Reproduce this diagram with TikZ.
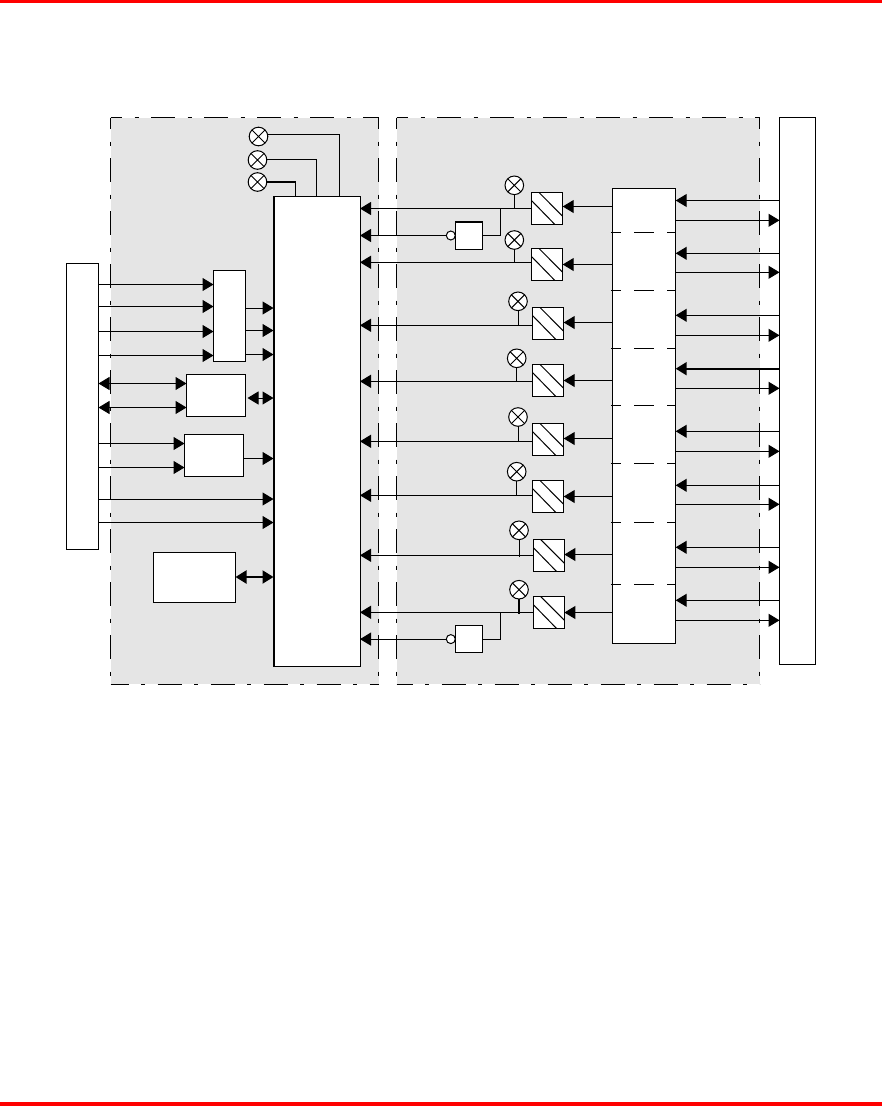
\documentclass[tikz,border=0pt]{standalone}
\usetikzlibrary{arrows.meta}
\definecolor{panelgray}{HTML}{E5E5E5}
\definecolor{rulered}{HTML}{FF0000}
\tikzset{
  x=1pt,y=-1pt,
  every path/.style={line width=1pt},
  panelfill/.style={fill=panelgray,draw=none},
  panelside/.style={draw=black,line width=1pt,dash pattern=on 24pt off 12.5pt on 4pt off 12.5pt,dash phase=#1},
  panelside/.default=12.5pt,
  box/.style={draw=black,fill=white,line width=1pt,rectangle,inner sep=0pt,outer sep=0pt,anchor=north west},
  lamp/.style={draw=black,fill=white,line width=1pt,circle,inner sep=0pt,outer sep=0pt,minimum size=18.6pt,
    path picture={\draw[line width=1pt] (path picture bounding box.north west) -- (path picture bounding box.south east)
      (path picture bounding box.north east) -- (path picture bounding box.south west);}},
  hatchbox/.style={box,minimum width=31.4pt,minimum height=32pt,
    path picture={\draw[line width=1pt]
      ([xshift=7.5pt]path picture bounding box.north west) -- ([yshift=8pt]path picture bounding box.south east)
      ([yshift=-8pt]path picture bounding box.north west) -- ([xshift=-8pt]path picture bounding box.south east);}},
  inv/.style={draw=black,fill=white,line width=1pt,circle,inner sep=0pt,outer sep=0pt,minimum size=9pt},
  arr/.style={-{Triangle[length=11pt,width=13pt]},line width=1pt},
  biarr/.style={{Triangle[length=11pt,width=13pt]}-{Triangle[length=11pt,width=13pt]},line width=1pt},
  wire/.style={line width=1pt},
  thickwire/.style={line width=2pt},
  sep/.style={line width=1pt,dash pattern=on 10pt off 13pt on 20pt off 13pt on 10pt off 50pt}
}
\begin{document}
\begin{tikzpicture}
\useasboundingbox (0,0) rectangle (882,1106);
% red rules
\fill[rulered] (0,0) rectangle (882,3);
\fill[rulered] (0,1102) rectangle (882,1106);
% panels
\path[panelfill] (110.5,117.5) rectangle (378.5,684);
\path[panelfill] (396.5,117.5) rectangle (759.5,684);
\draw[panelside] (110.5,117.5) -- (378.5,117.5);
\draw[panelside] (110.5,117.5) -- (110.5,684);
\draw[panelside] (378.5,117.5) -- (378.5,684);
\draw[panelside=6pt] (110.5,684) -- (378.5,684);
\draw[panelside] (396.5,117.5) -- (759.5,117.5);
\draw[panelside] (396.5,117.5) -- (396.5,684);
\draw[panelside] (759.5,117.5) -- (759.5,684);
\draw[panelside=8pt] (396.5,684) -- (759.5,684);
% blocks
\node[box,minimum width=32pt,minimum height=286pt] (src) at (66.5,263) {};
\node[box,minimum width=86.5pt,minimum height=469.5pt] (main) at (273.5,196.5) {};
\draw[line width=2pt] (main.north west) -- (main.south west);
\node[box,minimum width=32pt,minimum height=90.5pt] (mux) at (213.5,270.5) {};
\node[box,minimum width=59pt,minimum height=41.5pt] (bib) at (186.5,374.5) {};
\node[box,minimum width=59pt,minimum height=42pt] (inb) at (184.5,434.5) {};
\node[box,minimum width=82pt,minimum height=50pt] (mem) at (153.5,552.5) {};
\node[box,minimum width=63.4pt,minimum height=455pt] (tall) at (612.3,188.5) {};
\node[box,minimum width=36pt,minimum height=546.5pt] (bar) at (779.5,117.5) {};
% top lamps
\node[lamp] (la) at (258.5,136.5) {};
\node[lamp] (lb) at (257.5,160) {};
\node[lamp] (lc) at (257.5,182) {};
\draw[wire] (la.east |- 0,134.5) -| (main.north -| 339.5,0);
\draw[wire] (lb.east |- 0,159.5) -| (main.north -| 316.5,0);
\draw[thickwire] (lc.east |- 0,181.5) -- (295.5,181.5) coordinate (lcc);
\draw[wire] (lcc) -- (lcc |- main.north);
% left inputs
\foreach \y in {284.5,306.5,331.5,355.5} \draw[arr] (src.east |- 0,\y) -- (mux.west |- 0,\y);
\foreach \y in {308,330.5,354.5} \draw[arr] (mux.east |- 0,\y) -- (main.west |- 0,\y);
\foreach \y in {383.5,407.5} \draw[biarr] (src.east |- 0,\y) -- (bib.west |- 0,\y);
\draw[biarr,shorten <=2pt] (bib.east |- 0,398) -- (main.west |- 0,398);
\foreach \y in {443.5,467.5} \draw[arr] (src.east |- 0,\y) -- (inb.west |- 0,\y);
\draw[arr] (inb.east |- 0,458.5) -- (main.west |- 0,458.5);
\foreach \y in {499,522.5} \draw[arr] (src.east |- 0,\y) -- (main.west |- 0,\y);
\draw[biarr,line width=2pt] (mem.east |- 0,577) -- (main.west |- 0,577);
% hatch boxes
\node[hatchbox] (h1) at (531.3,192.3) {};
\node[hatchbox] (h2) at (531.3,248.3) {};
\node[hatchbox] (h3) at (532.3,307.3) {};
\node[hatchbox] (h4) at (532.3,364.3) {};
\node[hatchbox] (h5) at (532.3,423.3) {};
\node[hatchbox] (h6) at (532.3,480.3) {};
\node[hatchbox] (h7) at (533,539.3) {};
\node[hatchbox] (h8) at (533,596.3) {};
% right lamps
\node[lamp] (r1) at (514.3,185.3) {};
\node[lamp] (r2) at (514.3,240) {};
\node[lamp] (r3) at (518,301.3) {};
\node[lamp] (r4) at (516.7,358.3) {};
\node[lamp] (r5) at (518,417) {};
\node[lamp] (r6) at (516.7,471.7) {};
\node[lamp] (r7) at (519,530.3) {};
\node[lamp] (r8) at (519,589.7) {};
% hatch -> main
\foreach \n/\y in {h1/208.5,h2/262.3,h3/325.3,h4/381.3,h5/441.3,h6/495.3,h7/555.3,h8/612.3}
  \draw[arr] (\n.west |- 0,\y) -- (main.east |- 0,\y);
% stems
\foreach \n/\y in {r1/208.5,r2/262.3,r3/325.3,r4/381.3,r5/441.3,r6/495.3,r7/557}
  \draw[wire] (\n.south) -- (\n.south |- 0,\y);
\draw[thickwire] (r8.south) -- (r8.south |- 0,614);
% tall -> hatch
\foreach \n/\y in {h1/206.5,h2/264.5,h3/322.5,h4/380.5,h5/438.5,h6/496.5,h7/554.5,h8/612.5}
  \draw[arr] (tall.west |- 0,\y) -- (\n.east |- 0,\y);
% inverters
\node[box,minimum width=27.4pt,minimum height=27.6pt] (g1) at (455.3,221.7) {};
\draw[line width=2pt] (g1.north west) -- (g1.north east);
\node[inv,anchor=east] (i1) at (g1.west) {};
\draw[arr] (i1.west) -- (i1.west -| main.east);
\draw[wire] (g1.east) -| (500.3,208.5) coordinate (j1);
\node[box,minimum width=27.4pt,minimum height=27.6pt] (g2) at (455.3,625.3) {};
\node[inv,anchor=east] (i2) at (g2.west) {};
\draw[arr] (i2.west) -- (i2.west -| main.east);
\draw[wire] (g2.east) -| (500.3,612.3) coordinate (j2);
% separators in tall box
\foreach \y in {232.4,290.4,348.4,405.4,463.4,522.4,584.4}
  \draw[sep] (tall.west |- 0,\y) ++(-1,0) -- (tall.east |- 0,\y);
% bar <-> tall
\foreach \y in {200.5,253.3,315.3,431.3,485.3,547.3,600.3}
  \draw[arr] (bar.west |- 0,\y) -- (tall.east |- 0,\y);
\draw[arr,line width=2pt] (bar.west |- 0,368.7) -- (tall.east |- 0,368.7);
\foreach \y in {220.3,272.3,335.3,388.3,451.3,504.3,567.3,620.3}
  \draw[arr] (tall.east |- 0,\y) -- (bar.west |- 0,\y);
\end{tikzpicture}
\end{document}
